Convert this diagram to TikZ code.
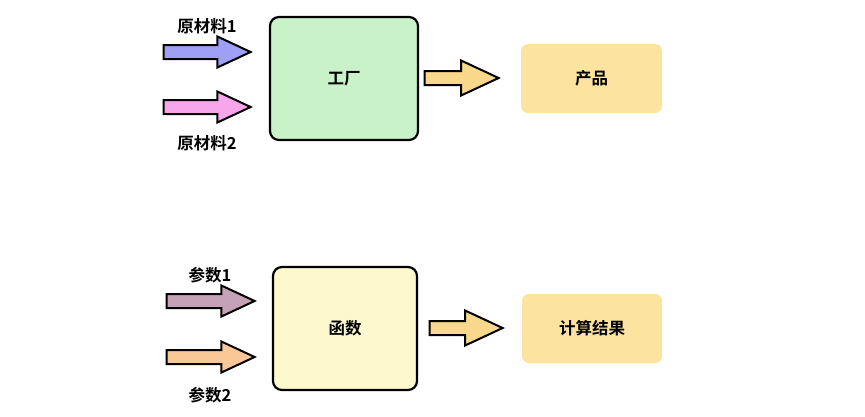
\documentclass[tikz,border=0pt]{standalone}
\usepackage{fontspec}
\setmainfont{Noto Sans CJK SC}[BoldFont=* Bold]
\usetikzlibrary{shapes.arrows}

\definecolor{rawblue}{HTML}{9F9FF5}
\definecolor{rawpink}{HTML}{F7A6EC}
\definecolor{factorygreen}{HTML}{C9F2C9}
\definecolor{outyellow}{HTML}{F8D98C}
\definecolor{productyellow}{HTML}{FCE3A0}
\definecolor{funcyellow}{HTML}{FEF9CD}
\definecolor{parammauve}{HTML}{C6A2B6}
\definecolor{parampeach}{HTML}{F9C896}

\tikzset{
  bigbox/.style={draw=black,line width=2.2pt,rounded corners=9pt,inner sep=0pt},
  resultbox/.style={rounded corners=7pt,inner sep=0pt},
  fatarrow/.style={single arrow,draw=black,line width=2pt,inner sep=6pt,
    single arrow head extend=8.5pt,single arrow tip angle=50,anchor=tip},
  lbl/.style={font=\bfseries\fontsize{16.5}{18}\selectfont}
}

\begin{document}
\begin{tikzpicture}[x=1pt,y=-1pt]
        \useasboundingbox[fill=white] (0,0) rectangle (865,416) ;
        % factory
        \node[bigbox,fill=factorygreen,minimum width=148pt,minimum height=123pt]
        (factory) at (344,78.5) {} ;
        \node[lbl] (factorytext) at (factory.center) {工厂} ;
        \node[fatarrow,fill=rawblue,minimum height=87pt] (rawa) at (253,52) {} ;
        \node[fatarrow,fill=rawpink,minimum height=87pt] (rawb) at (253,107) {} ;
        \node[lbl] (rawatext) at (207,26) {原材料1} ;
        \node[lbl] (rawbtext) at (207,143) {原材料2} ;
        \node[fatarrow,fill=outyellow,minimum height=74pt,single arrow head extend=10.5pt]
        (factoryout) at (501,78) {} ;
        \node[resultbox,fill=productyellow,minimum width=141pt,minimum height=69pt]
        (product) at (591.5,78.5) {} ;
        \node[lbl] (producttext) at (product.center) {产品} ;
        % function
        \node[bigbox,fill=funcyellow,minimum width=144pt,minimum height=123pt]
        (func) at (345,328.5) {} ;
        \node[lbl] (functext) at (func.center) {函数} ;
        \node[fatarrow,fill=parammauve,minimum height=88pt] (parama) at (257,301) {} ;
        \node[fatarrow,fill=parampeach,minimum height=88pt] (paramb) at (257,357) {} ;
        \node[lbl] (paramatext) at (210,275) {参数1} ;
        \node[lbl] (parambtext) at (210,395) {参数2} ;
        \node[fatarrow,fill=outyellow,minimum height=73pt,single arrow head extend=10.5pt]
        (funcout) at (505,328) {} ;
        \node[resultbox,fill=productyellow,minimum width=140pt,minimum height=69pt]
        (result) at (592,328.5) {} ;
        \node[lbl] (resulttext) at (result.center) {计算结果} ;
\end{tikzpicture}
\end{document}
